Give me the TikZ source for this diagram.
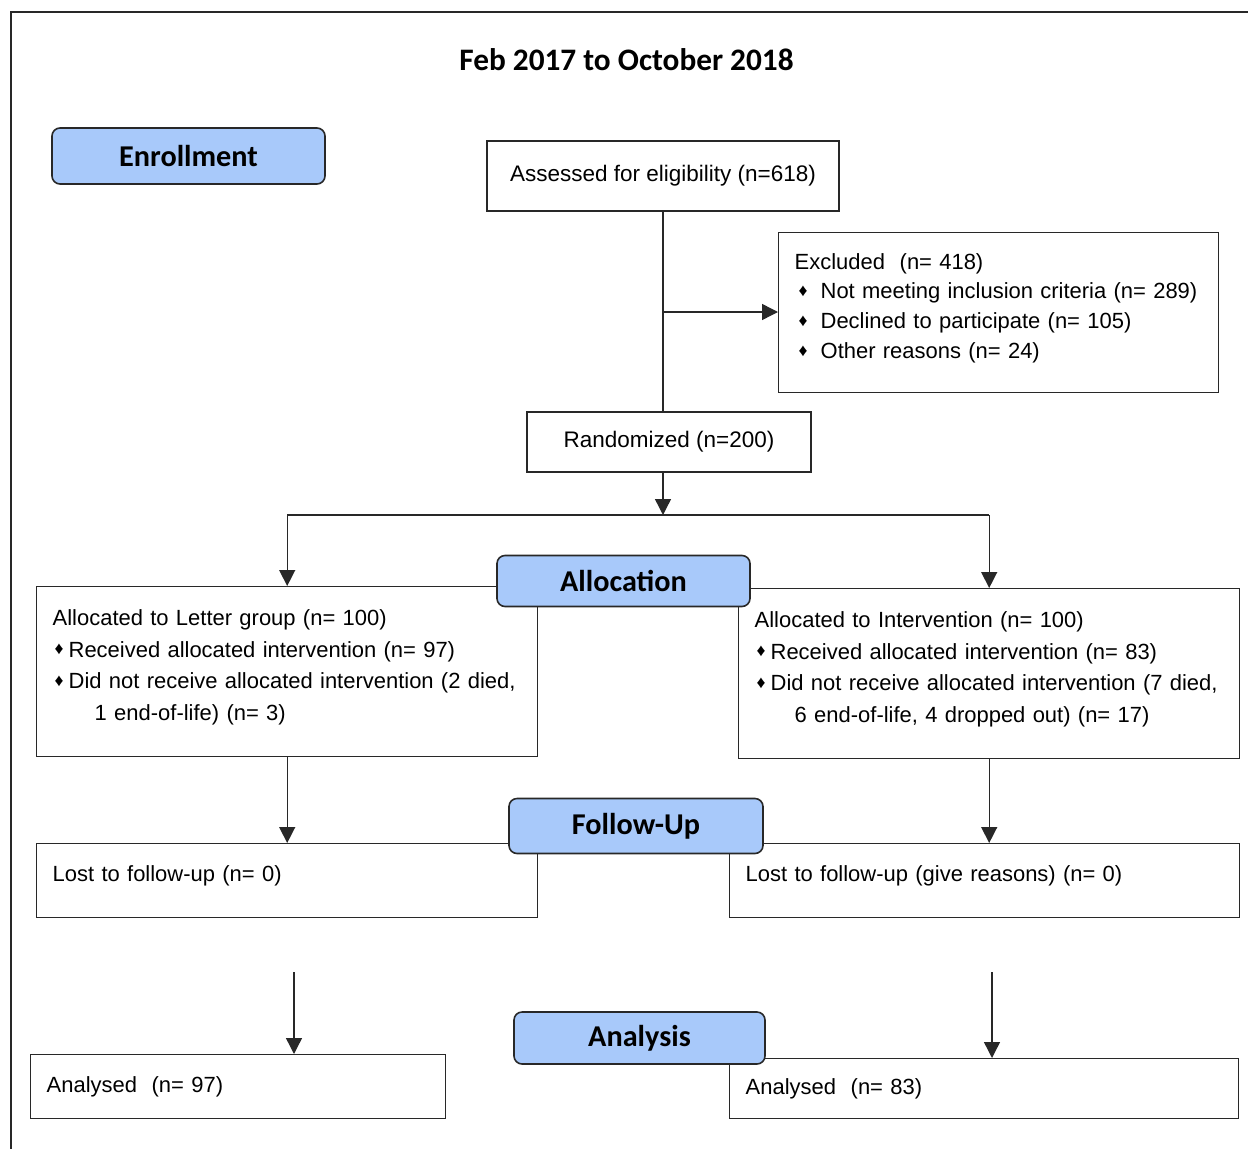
\documentclass[tikz,border=0pt]{standalone}
\usepackage{fontspec}
\setmainfont{Liberation Sans}
\newfontfamily\headfont{Carlito}
\usetikzlibrary{arrows.meta}
\usetikzlibrary{calc}
\usepackage{xcolor}
\definecolor{headblue}{RGB}{168,201,250}
\definecolor{linegray}{RGB}{40,40,40}
\newcommand{\dia}{\raisebox{0.1em}{\fontsize{10}{10}\selectfont\char"2666}}
\tikzset{
	box/.style={draw=linegray,line width=0.8pt,anchor=north west,align=left,inner xsep=0.32cm,inner ysep=0pt,font=\fontsize{12.5}{18}\selectfont},
	lift/.style={execute at end node={\par\vspace*{0.18cm}}},
	cbox/.style={draw=linegray,line width=0.8pt,align=center,font=\fontsize{12.8}{15}\selectfont},
	head/.style={draw=linegray,fill=headblue,rounded corners=0.16cm,line width=0.9pt,font=\headfont\bfseries\fontsize{17.2}{20}\selectfont},
}

\begin{document}
\begin{tikzpicture}[>={Triangle[length=0.32cm,width=0.32cm]},line width=0.8pt]
	\useasboundingbox (0,0) rectangle (24.96,-22.98);
	\draw[linegray] (24.96,-0.24) -- (0.22,-0.24) -- (0.22,-22.98);
	\node(0) at (12.53,-1.2)[font=\headfont\bfseries\fontsize{17.8}{21}\selectfont]{Feb 2017 to October 2018};
	\node(1) at (13.26,-3.52)[cbox,minimum width=7.04cm,minimum height=1.4cm]{Assessed for eligibility (n=618)};
	\node(2) at (15.56,-4.64)[box,lift,text width=8.16cm,minimum height=3.2cm,font=\fontsize{12.5}{17}\selectfont]{Excluded~ (n= 418)\\
		\hspace*{0.08cm}\dia\hspace{0.26cm}Not meeting inclusion criteria (n=~289)\\
		\hspace*{0.08cm}\dia\hspace{0.26cm}Declined to participate (n= 105)\\
		\hspace*{0.08cm}\dia\hspace{0.26cm}Other reasons (n= 24)};
	\node(3) at (13.38,-8.84)[cbox,minimum width=5.68cm,minimum height=1.2cm]{Randomized (n=200)};
	\node(4) at (0.72,-11.72)[box,lift,text width=9.38cm,minimum height=3.4cm]{Allocated to Letter group (n= 100)\\
		\hspace*{0.04cm}\dia\hspace{0.1cm}Received allocated intervention (n= 97)\\
		\hspace*{0.04cm}\dia\hspace{0.1cm}Did not receive allocated intervention (2~died,\\
		\hspace*{0.84cm}1 end-of-life) (n= 3)};
	\node(5) at (14.76,-11.76)[box,lift,text width=9.38cm,minimum height=3.4cm]{Allocated to Intervention (n= 100)\\
		\hspace*{0.04cm}\dia\hspace{0.1cm}Received allocated intervention (n= 83)\\
		\hspace*{0.04cm}\dia\hspace{0.1cm}Did not receive allocated intervention (7~died,\\
		\hspace*{0.8cm}6 end-of-life, 4 dropped out) (n= 17)};
	\node(6) at (0.72,-16.86)[box,lift,text width=9.38cm,minimum height=1.48cm]{Lost to follow-up (n= 0)};
	\node(7) at (14.58,-16.86)[box,lift,text width=9.56cm,minimum height=1.48cm]{Lost to follow-up (give reasons) (n= 0)};
	\node(8) at (0.6,-21.08)[box,text width=7.66cm,minimum height=1.28cm]{Analysed~ (n= 97)};
	\node(9) at (14.58,-21.16)[box,text width=9.54cm,minimum height=1.2cm]{Analysed~ (n= 83)};
	
	\coordinate(e) at (13.26,-6.24);
	\coordinate(s) at (13.26,-10.3);
	\coordinate(a) at (5.88,-19.44);
	\coordinate(b) at (19.84,-19.44);
	\draw[linegray] (1.south) -- (1.south |- 3.north);
	\draw[->,linegray] (e) -- (e -| 2.west);
	\draw[->,linegray] (1.south |- 3.south) -- (s);
	\draw[linegray] (4.north |- s) -- (5.north |- s);
	\draw[->,linegray] (4.north |- s) -- (4.north);
	\draw[->,linegray] (5.north |- s) -- (5.north);
	\draw[->,linegray] (4.south) -- (6.north);
	\draw[->,linegray] (5.south) -- (5.south |- 7.north);
	\draw[->,linegray] (a) -- (a |- 8.north);
	\draw[->,linegray] (b) -- (b |- 9.north);
	
	\node(10) at (3.77,-3.12)[head,minimum width=5.46cm,minimum height=1.12cm]{Enrollment};
	\node(11) at (12.47,-11.62)[head,minimum width=5.06cm,minimum height=1.02cm]{Allocation};
	\node(12) at (12.72,-16.52)[head,minimum width=5.08cm,minimum height=1.1cm]{Follow-Up};
	\node(13) at (12.79,-20.76)[head,minimum width=5.02cm,minimum height=1.04cm]{Analysis};
\end{tikzpicture}
\end{document}
